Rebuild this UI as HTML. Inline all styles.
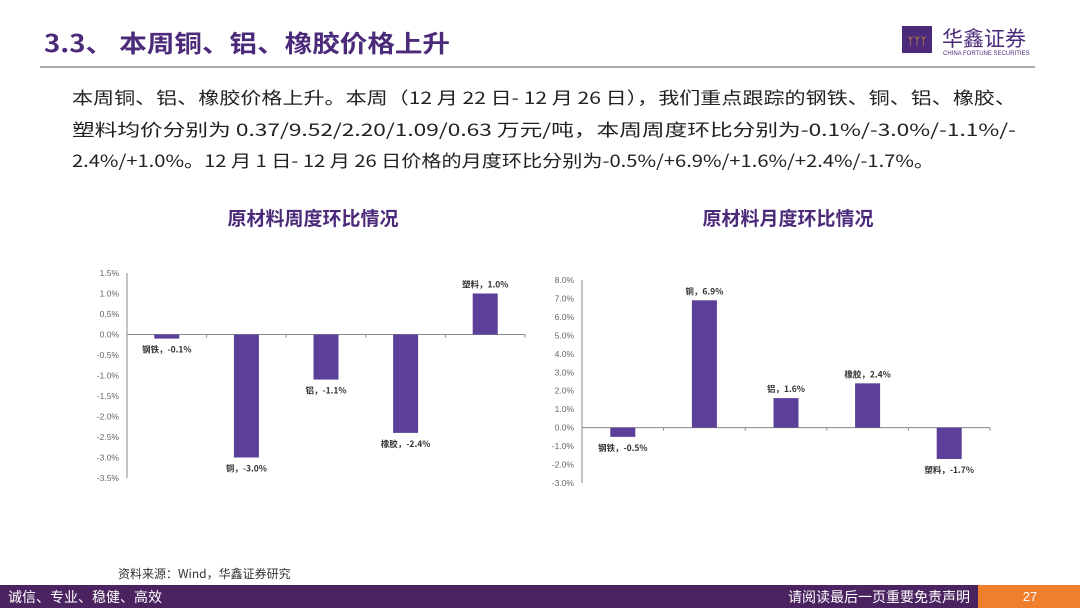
<!DOCTYPE html>
<html><head><meta charset="utf-8"><style>
body{margin:0;width:1080px;height:608px;overflow:hidden;background:#fff;font-family:"Liberation Sans","Noto Sans CJK SC",sans-serif}
</style></head><body>
<svg width="1080" height="608" xmlns="http://www.w3.org/2000/svg" font-family="Liberation Sans, Noto Sans CJK SC, sans-serif">
<text x="44" y="52" font-size="24" fill="#4b2a7a" font-weight="bold" font-family="Noto Sans CJK SC, sans-serif" textLength="406" lengthAdjust="spacingAndGlyphs">3.3、 本周铜、铝、橡胶价格上升</text>
<line x1="40" y1="67" x2="1035" y2="67" stroke="#777" stroke-width="1.2"/>
<g>
<rect x="902" y="26" width="30" height="27" fill="#4b2a7a"/>
<text x="917" y="45" font-size="11" fill="#f0a030" text-anchor="middle">ᛉᛉᛉ</text>
<text x="942" y="46" font-size="21" fill="#4b2a7a" font-family="Noto Sans CJK SC, sans-serif">华鑫证券</text>
<text x="943" y="55" font-size="6" fill="#4b2a7a">CHINA FORTUNE SECURITIES</text>
</g>
<g font-size="17" fill="#222" font-family="Noto Sans CJK SC, sans-serif">
<text x="72" y="104" textLength="944" lengthAdjust="spacingAndGlyphs">本周铜、铝、橡胶价格上升。本周（12 月 22 日- 12 月 26 日），我们重点跟踪的钢铁、铜、铝、橡胶、</text>
<text x="72" y="136" textLength="944" lengthAdjust="spacingAndGlyphs">塑料均价分别为 0.37/9.52/2.20/1.09/0.63 万元/吨，本周周度环比分别为-0.1%/-3.0%/-1.1%/-</text>
<text x="72" y="167" textLength="862" lengthAdjust="spacingAndGlyphs">2.4%/+1.0%。12 月 1 日- 12 月 26 日价格的月度环比分别为-0.5%/+6.9%/+1.6%/+2.4%/-1.7%。</text>
</g>
<text x="313" y="225" font-size="19" font-weight="bold" fill="#4b2a7a" text-anchor="middle" font-family="Noto Sans CJK SC, sans-serif">原材料周度环比情况</text>
<text x="788" y="225" font-size="19" font-weight="bold" fill="#4b2a7a" text-anchor="middle" font-family="Noto Sans CJK SC, sans-serif">原材料月度环比情况</text>
<g id="c1"></g>
<g id="c2"></g>
<text x="118" y="578" font-size="12" fill="#333" font-family="Noto Sans CJK SC, sans-serif">资料来源：Wind，华鑫证券研究</text>
<rect x="0" y="585" width="1080" height="23" fill="#4a2360"/>
<rect x="978" y="585" width="102" height="23" fill="#ef7f2c"/>
<text x="8" y="602" font-size="14" fill="#fff" font-family="Noto Sans CJK SC, sans-serif">诚信、专业、稳健、高效</text>
<text x="970" y="602" font-size="14" fill="#fff" text-anchor="end" font-family="Noto Sans CJK SC, sans-serif">请阅读最后一页重要免责声明</text>
<text x="1030" y="601" font-size="13" fill="#fff" text-anchor="middle">27</text>
</svg>
<script>
const cats1=['钢铁','铜','铝','橡胶','塑料'];
const vals1=[-0.1,-3.0,-1.1,-2.4,1.0];
const ticks1=[1.5,1.0,0.5,0.0,-0.5,-1.0,-1.5,-2.0,-2.5,-3.0,-3.5];
const cats2=['钢铁','铜','铝','橡胶','塑料'];
const vals2=[-0.5,6.9,1.6,2.4,-1.7];
const ticks2=[8,7,6,5,4,3,2,1,0,-1,-2,-3];
const NS='http://www.w3.org/2000/svg';
function mk(p,tag,a){const e=document.createElementNS(NS,tag);for(const k in a)e.setAttribute(k,a[k]);p.appendChild(e);return e;}
function draw(g,cats,vals,ticks,x0,x1,yTop,yBot,pfx){
  const max=ticks[0],min=ticks[ticks.length-1];
  const y=v=>yTop+(max-v)/(max-min)*(yBot-yTop);
  const step=(x1-x0)/cats.length;
  const ax=mk(g,'line',{x1:x0,y1:yTop,x2:x0,y2:yBot,stroke:'#888','stroke-width':1});
  
  
  ticks.forEach(t=>{
    const tl=mk(g,'text',{x:x0-8,y:y(t)+3,'font-size':8.5,fill:'#666','text-anchor':'end'});
    tl.textContent=t.toFixed(1)+'%';
    
    
  });
  const z=y(0);
  const xa=mk(g,'line',{x1:x0,y1:z,x2:x1,y2:z,stroke:'#888','stroke-width':1});
  
  
  for(let i=1;i<=cats.length;i++){mk(g,'line',{x1:x0+i*step,y1:z,x2:x0+i*step,y2:z+3,stroke:'#888'});}
  cats.forEach((c,i)=>{
    const v=vals[i],cx=x0+(i+0.5)*step,bw=25;
    const r=mk(g,'rect',{x:cx-bw/2,y:Math.min(y(v),z),width:bw,height:Math.abs(y(v)-z),fill:'#5b3f98'});
    
    
    const ly=v>=0?y(v)-6:y(v)+14;
    const t=mk(g,'text',{x:cx,y:ly,'font-size':8.5,'font-weight':'bold',fill:'#333','text-anchor':'middle','font-family':'Noto Sans CJK SC, sans-serif'});
    t.textContent=c+'，'+(v<0?'-':'')+Math.abs(v).toFixed(1)+'%';
    
    
  });
}
draw(document.getElementById('c1'),cats1,vals1,ticks1,127,525,273,478,'weekly');
draw(document.getElementById('c2'),cats2,vals2,ticks2,582,990,280,483,'monthly');
</script>
</body></html>
